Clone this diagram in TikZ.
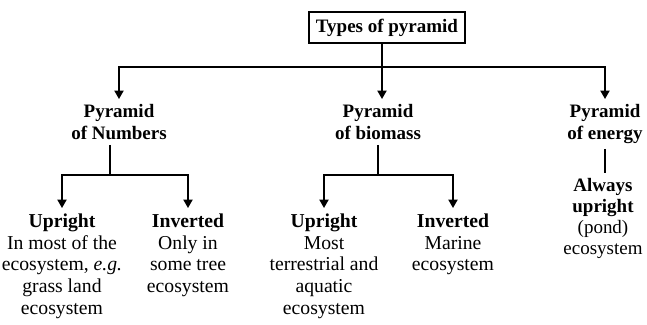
\documentclass[tikz,border=0pt]{standalone}
\usepackage{fontspec}
\setmainfont{Liberation Serif}
\usetikzlibrary{arrows.meta}
\tikzset{
  head/.style={align=center, anchor=north, font=\fontsize{13.5}{15.3}\selectfont\bfseries},
  leaf/.style={align=center, anchor=north, font=\fontsize{14}{15.6}\selectfont},
}
\begin{document}
\begin{tikzpicture}[x=0.025cm, y=-0.025cm, line width=1.1pt,
    >={Triangle[length=6pt,width=6.5pt]}]
	\useasboundingbox (0,0) rectangle (647,324);
	
	\node[draw, line width=1.4pt, inner xsep=5pt, inner ysep=4.5pt, font=\fontsize{13.5}{15.3}\selectfont\bfseries] (root) at (387,27.5) {Types of pyramid};
	\coordinate (j0) at (382,67);
	
	\node[head] (num) at (119,99) {Pyramid\\of Numbers};
	\node[head] (bio) at (378,99) {Pyramid\\of biomass};
	\node[head] (energy) at (605,99) {Pyramid\\of energy};
	
	\coordinate (jn) at (110,175);
	\coordinate (jb) at (378,175);
	
	\node[leaf] (nup) at (62,208) {\textbf{Upright}\\In most of the\\ecosystem, \textit{e.g.}\\grass land\\ecosystem};
	\node[leaf] (ninv) at (188,208) {\textbf{Inverted}\\Only in\\some tree\\ecosystem};
	\node[leaf] (bup) at (324,208) {\textbf{Upright}\\Most\\terrestrial and\\aquatic\\ecosystem};
	\node[leaf] (binv) at (453,208) {\textbf{Inverted}\\Marine\\ecosystem};
	\node[leaf, font=\fontsize{13.5}{15}\selectfont] (always) at (603,173) {\textbf{Always}\\\textbf{upright}\\(pond)\\ecosystem};
	
	\draw (root.south -| j0) -- (j0);
	\draw[->] (j0) -- (j0 |- bio.north);
	\foreach \to in {num,energy}
	\draw[->] (j0) -| (\to.north);
	
	\draw (jn |- num.south) -- (jn);
	\foreach \to in {nup,ninv}
	\draw[->] (jn) -| (\to.north);
	
	\draw (bio.south) -- (jb);
	\foreach \to in {bup,binv}
	\draw[->] (jb) -| (\to.north);
	
	\draw (energy.south) -- (energy.south |- always.north);
\end{tikzpicture}
\end{document}
